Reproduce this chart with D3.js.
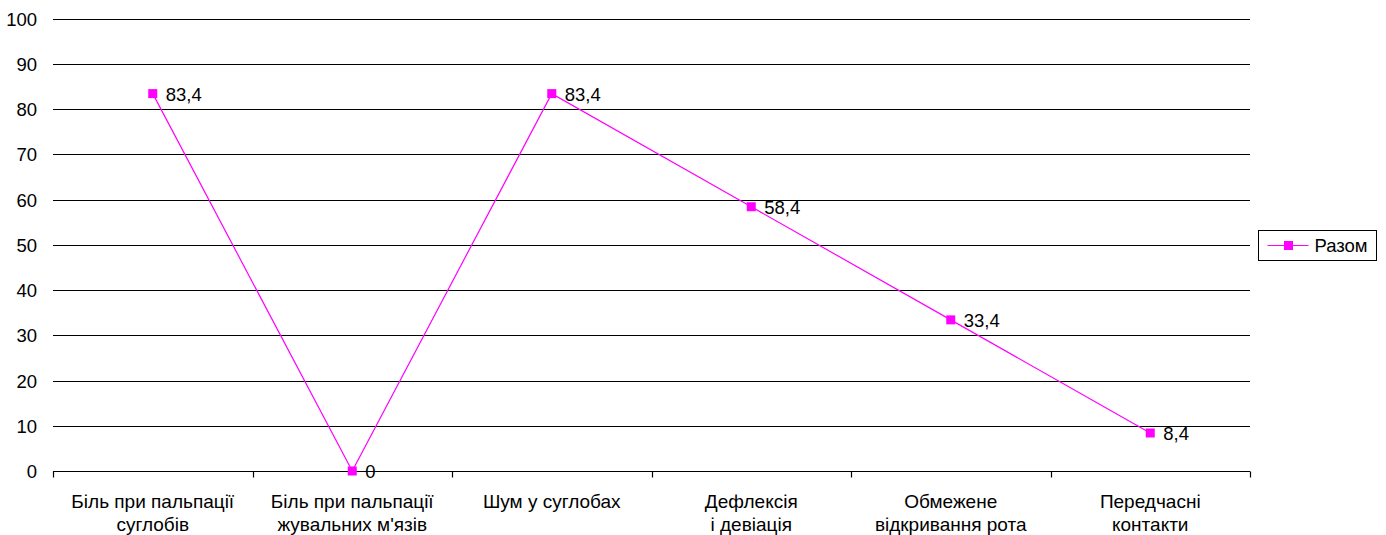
<!DOCTYPE html>
<html>
<head>
<meta charset="utf-8">
<script src="https://cdn.jsdelivr.net/npm/d3@7"></script>
<style>
  body { margin: 0; background: #fff; }
  text { font-family: "Liberation Sans", Arial, sans-serif; }
</style>
</head>
<body>
<div id="chart"></div>
<script>
const width = 1386;
const height = 535;

// ──── Data ────
const categories = [
    ["Біль при пальпації", "суглобів"],
    ["Біль при пальпації", "жувальних м'язів"],
    ["Шум у суглобах"],
    ["Дефлексія", "і девіація"],
    ["Обмежене", "відкривання рота"],
    ["Передчасні", "контакти"]
];
const values = [83.4, 0, 83.4, 58.4, 33.4, 8.4];
const valueLabels = ["83,4", "0", "83,4", "58,4", "33,4", "8,4"];
const yTicks = [0, 10, 20, 30, 40, 50, 60, 70, 80, 90, 100];
const seriesName = "Разом";

const color = "#ff00ff";
const fontSize = 18.5;
const margin = { top: 18.5, right: 136, bottom: 64, left: 53 };

const svg = d3.select("#chart")
    .append("svg")
    .attr("width", width)
    .attr("height", height);

const x = d3.scaleBand()
    .domain(d3.range(categories.length))
    .range([margin.left, width - margin.right]);

const y = d3.scaleLinear()
    .domain([0, 100])
    .range([height - margin.bottom, margin.top]);

// ──── Gridlines + y labels ────
const grid = svg.append("g");
grid.selectAll("line")
    .data(yTicks)
    .join("line")
    .attr("x1", margin.left)
    .attr("x2", width - margin.right)
    .attr("y1", d => Math.round(y(d)) + 0.5)
    .attr("y2", d => Math.round(y(d)) + 0.5)
    .attr("stroke", "#000")
    .attr("stroke-width", 1.2);

grid.selectAll("text")
    .data(yTicks)
    .join("text")
    .attr("x", 37)
    .attr("y", d => Math.round(y(d)) + 0.5)
    .attr("dy", "0.35em")
    .attr("text-anchor", "end")
    .attr("font-size", fontSize)
    .attr("fill", "#000")
    .text(d => d);

// ──── X axis ticks and labels ────
const y0 = Math.round(y(0)) + 0.5;
const bounds = d3.range(categories.length + 1);
svg.append("g").selectAll("line")
    .data(bounds)
    .join("line")
    .attr("x1", i => Math.round(i < categories.length ? x(i) : x(i - 1) + x.bandwidth()) + 0.5)
    .attr("x2", i => Math.round(i < categories.length ? x(i) : x(i - 1) + x.bandwidth()) + 0.5)
    .attr("y1", y0)
    .attr("y2", y0 + 6)
    .attr("stroke", "#000")
    .attr("stroke-width", 1.2);

const catLabel = svg.append("g")
    .attr("text-anchor", "middle")
    .selectAll("text")
    .data(categories)
    .join("text")
    .attr("font-size", 19)
    .attr("fill", "#000");

catLabel.each(function(lines, i) {
    const t = d3.select(this);
    lines.forEach((l, j) => {
        t.append("tspan")
            .attr("x", x(i) + x.bandwidth() / 2)
            .attr("y", 507.5 + j * 23)
            .text(l);
    });
});

// ──── Line series ────
const cx = i => x(i) + x.bandwidth() / 2;
const line = d3.line()
    .x((d, i) => cx(i))
    .y(d => y(d));

svg.append("path")
    .datum(values)
    .attr("fill", "none")
    .attr("stroke", color)
    .attr("stroke-width", 1.2)
    .attr("d", line);

svg.append("g").selectAll("rect")
    .data(values)
    .join("rect")
    .attr("x", (d, i) => cx(i) - 4.5)
    .attr("y", d => y(d) - 4.5)
    .attr("width", 9)
    .attr("height", 9)
    .attr("fill", color);

svg.append("g").selectAll("text")
    .data(values)
    .join("text")
    .attr("x", (d, i) => cx(i) + 13)
    .attr("y", d => y(d) + 0.5)
    .attr("dy", "0.35em")
    .attr("font-size", fontSize)
    .attr("fill", "#000")
    .text((d, i) => valueLabels[i]);

// ──── Legend ────
const legend = svg.append("g").attr("transform", "translate(1258.5,230.5)");
legend.append("rect")
    .attr("width", 118)
    .attr("height", 30)
    .attr("fill", "#fff")
    .attr("stroke", "#000");
legend.append("line")
    .attr("x1", 9).attr("x2", 50)
    .attr("y1", 15).attr("y2", 15)
    .attr("stroke", color)
    .attr("stroke-width", 1.2);
legend.append("rect")
    .attr("x", 25.5).attr("y", 10.5)
    .attr("width", 9).attr("height", 9)
    .attr("fill", color);
legend.append("text")
    .attr("x", 56)
    .attr("y", 15)
    .attr("dy", "0.35em")
    .attr("font-size", fontSize)
    .attr("fill", "#000")
    .text(seriesName);
</script>
</body>
</html>
